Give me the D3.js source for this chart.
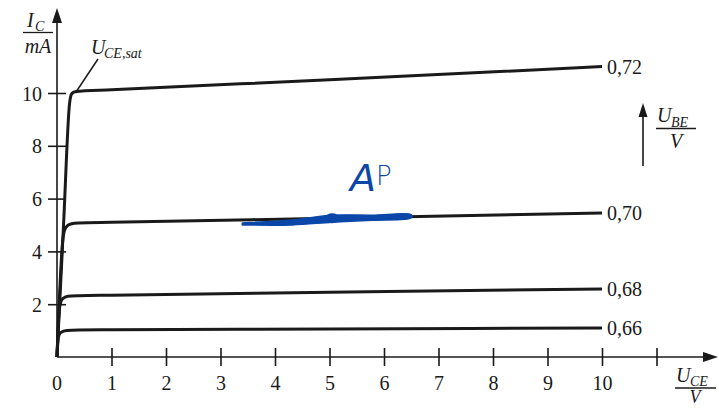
<!DOCTYPE html>
<html>
<head>
<meta charset="utf-8">
<script src="https://cdn.jsdelivr.net/npm/d3@7"></script>
</head>
<body style="margin:0;background:#fff">
<svg id="chart" width="719" height="408"></svg>
<script>
// --- Data ---
const xTicks = [1, 2, 3, 4, 5, 6, 7, 8, 9, 10, 11];
const xTickLabels = ["1", "2", "3", "4", "5", "6", "7", "8", "9", "10", ""];
const yTicks = [2, 4, 6, 8, 10];
const ubeLabels = ["0,72", "0,70", "0,68", "0,66"];

// U_CE in V, I_C in mA
const curve072 = [[0, 0], [0.12, 5], [0.23, 9.6], [0.27, 9.97], [0.33, 10.05], [1, 10.12], [5, 10.5], [10, 11.0]];
const curve070 = [[0, 0], [0.11, 4.5], [0.16, 4.9], [0.25, 5.04], [0.4, 5.08], [1, 5.1], [5, 5.26], [10, 5.45]];
const curve068 = [[0, 0], [0.045, 1.85], [0.1, 2.2], [0.2, 2.3], [0.4, 2.32], [1, 2.34], [5, 2.45], [10, 2.58]];
const curve066 = [[0, 0], [0.02, 0.7], [0.07, 0.93], [0.18, 1.0], [0.4, 1.02], [1, 1.03], [5, 1.06], [10, 1.1]];
const curves = [curve072, curve070, curve068, curve066];

const apStroke = [3.4, 6.5];   // U_CE range of the hand-drawn blue mark
const apPoint = [5.05, 5.26];

// --- SVG & scales ---
const svg = d3.select("#chart");
const ink = "#1a1a1a";
const blue = "#0b47a8";

const x = d3.scaleLinear().domain([0, 11]).range([57, 656.5]);
const y = d3.scaleLinear().domain([0, 10]).range([357, 93]);

function fontStyle(size, italic) {
    return `font-family:'Liberation Serif';font-size:${size}px;font-style:${italic ? "italic" : "normal"};fill:${ink}`;
}

function label(px, py, txt, size, italic) {
    return svg.append("text")
        .attr("x", px).attr("y", py)
        .attr("style", fontStyle(size, italic))
        .text(txt);
}

// --- Axes ---
const xAxis = svg.append("g")
    .attr("transform", `translate(0,${y(0)})`)
    .call(d3.axisBottom(x).tickValues(xTicks).tickSize(9)
        .tickFormat((d, i) => xTickLabels[i]));
xAxis.attr("font-family", null).attr("font-size", null);
xAxis.select(".domain").remove();
xAxis.selectAll(".tick line").attr("y1", -9).attr("y2", 9)
    .attr("stroke", ink).attr("stroke-width", 1.6);
xAxis.selectAll(".tick text").attr("y", 33).attr("dy", 0)
    .attr("fill", null).attr("style", fontStyle(20));

const yAxis = svg.append("g")
    .attr("transform", `translate(${x(0)},0)`)
    .call(d3.axisLeft(y).tickValues(yTicks).tickSize(9));
yAxis.attr("font-family", null).attr("font-size", null);
yAxis.select(".domain").remove();
yAxis.selectAll(".tick line").attr("x1", -9).attr("x2", 9)
    .attr("stroke", ink).attr("stroke-width", 1.6);
yAxis.selectAll(".tick text").attr("x", -15).attr("dy", "0.35em")
    .attr("fill", null).attr("style", fontStyle(20));

// axis lines with arrows
svg.append("line")
    .attr("x1", x(0)).attr("x2", 706).attr("y1", y(0)).attr("y2", y(0))
    .attr("stroke", ink).attr("stroke-width", 1.6);
svg.append("path")
    .attr("d", `M718,${y(0)} L703,${y(0) - 5} L703,${y(0) + 5} Z`)
    .attr("fill", ink);
svg.append("line")
    .attr("x1", x(0)).attr("x2", x(0)).attr("y1", y(0)).attr("y2", 20)
    .attr("stroke", ink).attr("stroke-width", 1.6);
svg.append("path")
    .attr("d", `M${x(0)},8 L${x(0) - 5},23 L${x(0) + 5},23 Z`)
    .attr("fill", ink);

label(x(0), 390, "0", 20).attr("text-anchor", "middle");

// --- Characteristic curves ---
const line = d3.line()
    .x(d => x(d[0]))
    .y(d => y(d[1]))
    .curve(d3.curveMonotoneX);

svg.append("g").selectAll("path")
    .data(curves)
    .join("path")
    .attr("d", line)
    .attr("fill", "none")
    .attr("stroke", ink)
    .attr("stroke-width", 3)
    .attr("stroke-linejoin", "round");

curves.forEach((c, i) => {
    const last = c[c.length - 1];
    label(x(last[0]) + 5, y(last[1]), ubeLabels[i], 20).attr("dy", "0.35em");
});

// --- Y axis label: I_C / mA ---
label(27, 27, "I", 20, true);
label(35, 31, "C", 14, true);
svg.append("line").attr("x1", 23).attr("x2", 53).attr("y1", 32.5).attr("y2", 32.5)
    .attr("stroke", ink).attr("stroke-width", 1.3);
label(38, 53, "mA", 20, true).attr("text-anchor", "middle");

// --- U_CE,sat label and leader ---
label(91, 54, "U", 20, true);
label(104, 58, "CE,sat", 14, true);
svg.append("line").attr("x1", 98).attr("y1", 59).attr("x2", 76).attr("y2", 92)
    .attr("stroke", ink).attr("stroke-width", 1.5);

// --- U_BE / V arrow + label ---
svg.append("line").attr("x1", 643).attr("x2", 643).attr("y1", 166).attr("y2", 115)
    .attr("stroke", ink).attr("stroke-width", 1.6);
svg.append("path").attr("d", "M643,103 L638.5,117 L647.5,117 Z").attr("fill", ink);
label(657, 122, "U", 20, true);
label(671, 127, "BE", 14, true);
svg.append("line").attr("x1", 656).attr("x2", 696).attr("y1", 128.5).attr("y2", 128.5)
    .attr("stroke", ink).attr("stroke-width", 1.3);
label(676, 148, "V", 20, true).attr("text-anchor", "middle");

// --- U_CE / V label ---
label(676, 382, "U", 20, true);
label(690, 386, "CE", 14, true);
svg.append("line").attr("x1", 675).attr("x2", 716).attr("y1", 388).attr("y2", 388)
    .attr("stroke", ink).attr("stroke-width", 1.3);
label(695, 403, "V", 18, true).attr("text-anchor", "middle");

// --- Hand-drawn operating point (AP) in blue ---
const onLine = v => 5.1 + (5.45 - 5.1) * (v - 1) / 9;
const x0 = x(apStroke[0]), x1 = x(apStroke[1]), xm = x(apPoint[0]);
const y0 = y(onLine(apStroke[0])) + 2, y1 = y(onLine(apStroke[1])) - 1, ym = y(onLine(apPoint[0]));
svg.append("path")
    .attr("d", d3.line().curve(d3.curveCatmullRom)([
        [x0, y0 + 1], [xm - 40, y0 - 2], [xm, ym - 3], [xm + 40, ym - 3], [x1, y1 - 1],
        [x1, y1 + 2], [xm + 40, ym + 2], [xm, ym + 4], [xm - 40, y0 + 3], [x0, y0 + 3]
    ]) + "Z")
    .attr("fill", blue).attr("stroke", blue).attr("stroke-width", 1.5)
    .attr("stroke-linejoin", "round");
svg.append("ellipse")
    .attr("cx", xm).attr("cy", ym)
    .attr("rx", 7).attr("ry", 5).attr("fill", blue);
svg.append("text").attr("x", 350).attr("y", 191)
    .attr("style", `font-family:'DejaVu Sans';font-size:38px;font-style:italic;font-weight:300;fill:${blue}`)
    .text("A");
svg.append("text").attr("x", 376).attr("y", 185)
    .attr("style", `font-family:'DejaVu Sans';font-size:26px;font-weight:300;fill:${blue}`)
    .text("P");
</script>
</body>
</html>
